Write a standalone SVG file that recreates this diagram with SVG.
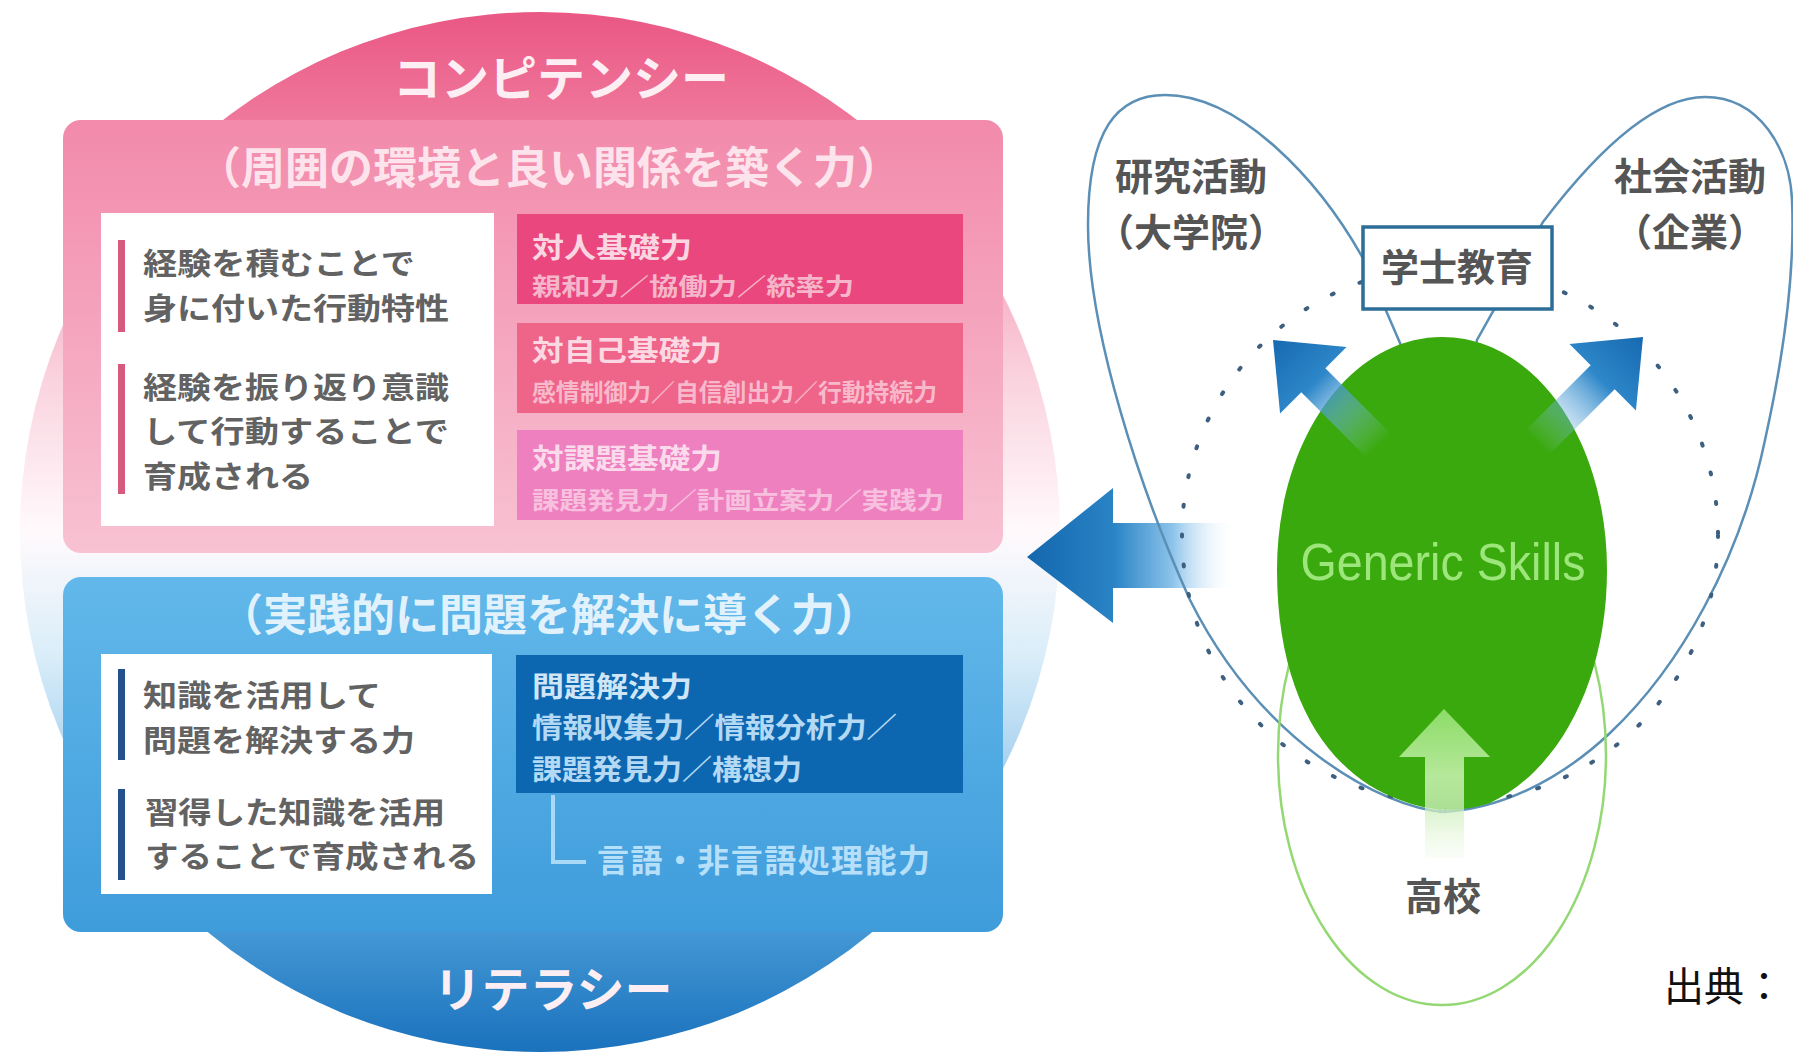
<svg xmlns="http://www.w3.org/2000/svg" width="1793" height="1053" viewBox="0 0 1793 1053">
<defs>
<linearGradient id="gCircle" gradientUnits="userSpaceOnUse" x1="0" y1="12" x2="0" y2="1052">
<stop offset="0" stop-color="#ea5784"/>
<stop offset="0.08" stop-color="#ee7096"/>
<stop offset="0.2" stop-color="#f49ab4"/>
<stop offset="0.35" stop-color="#fad2de"/>
<stop offset="0.5" stop-color="#fffafc"/>
<stop offset="0.62" stop-color="#d9edf9"/>
<stop offset="0.75" stop-color="#9ccbed"/>
<stop offset="0.86" stop-color="#4d9fd9"/>
<stop offset="1" stop-color="#1a72bd"/>
</linearGradient>
<linearGradient id="gPink" x1="0" y1="0" x2="0" y2="1">
<stop offset="0" stop-color="#f28aab"/>
<stop offset="1" stop-color="#f8c2d3"/>
</linearGradient>
<linearGradient id="gBlue" x1="0" y1="0" x2="0" y2="1">
<stop offset="0" stop-color="#62b8ea"/>
<stop offset="1" stop-color="#3f9cdb"/>
</linearGradient>
<linearGradient id="gBigArrow" gradientUnits="userSpaceOnUse" x1="1027" y1="0" x2="1235" y2="0">
<stop offset="0" stop-color="#1467ad"/>
<stop offset="0.42" stop-color="#2a84c6"/>
<stop offset="0.7" stop-color="#8cc3ea"/>
<stop offset="1" stop-color="#ffffff" stop-opacity="0"/>
</linearGradient>
<linearGradient id="gDiag" x1="0" y1="0" x2="0" y2="1">
<stop offset="0" stop-color="#1769b0"/>
<stop offset="0.4" stop-color="#2d87c9"/>
<stop offset="1" stop-color="#a9d3f0" stop-opacity="0"/>
</linearGradient>
<linearGradient id="gUp" x1="0" y1="0" x2="0" y2="1">
<stop offset="0" stop-color="#8ddc68"/>
<stop offset="0.45" stop-color="#b5e89a"/>
<stop offset="1" stop-color="#f4fbef" stop-opacity="0.4"/>
</linearGradient>
</defs>
<style>
.jp{font-family:"Noto Sans CJK JP","Noto Sans CJK SC",sans-serif;}
.title{font-size:48px;font-weight:700;fill:#fdeef3;text-anchor:middle;}
.sub{font-size:44px;font-weight:700;text-anchor:middle;}
.body{font-size:30px;font-weight:700;fill:#626262;}
.bt{font-size:28px;font-weight:700;}
.lbl{font-size:38px;font-weight:700;fill:#555555;text-anchor:middle;}
.loop{fill:none;stroke:#5b8fb6;stroke-width:2.5;}
</style>
<rect width="1793" height="1053" fill="#ffffff"/>

<g id="sphere">
<circle cx="540" cy="532" r="520" fill="url(#gCircle)"/>
</g>

<g id="competency">
<rect x="63" y="120" width="940" height="433" rx="18" fill="url(#gPink)"/>
<text class="jp title" x="561" y="96">コンピテンシー</text>
<text class="jp sub" x="549" y="184" fill="#fde4ec">（周囲の環境と良い関係を築く力）</text>
<g id="competency-desc">
<rect x="101" y="213" width="393" height="313" fill="#ffffff"/>
<rect x="118" y="240" width="7" height="92" fill="#d65a7e"/>
<rect x="118" y="364" width="7" height="130" fill="#d65a7e"/>
<text class="jp body"><tspan x="143" y="274" textLength="272" lengthAdjust="spacingAndGlyphs">経験を積むことで</tspan><tspan x="143" y="319" textLength="306" lengthAdjust="spacingAndGlyphs">身に付いた行動特性</tspan></text>
<text class="jp body"><tspan x="143" y="398" textLength="306" lengthAdjust="spacingAndGlyphs">経験を振り返り意識</tspan><tspan x="143" y="442" textLength="306" lengthAdjust="spacingAndGlyphs">して行動することで</tspan><tspan x="143" y="487" textLength="170" lengthAdjust="spacingAndGlyphs">育成される</tspan></text>
</g>
<g id="taijin">
<rect x="517" y="214" width="446" height="90" fill="#e9477d"/>
<text class="jp" font-weight="700"><tspan x="532" y="258" font-size="28" fill="#fbd6e2" textLength="160" lengthAdjust="spacingAndGlyphs">対人基礎力</tspan><tspan x="532" y="295" font-size="24" fill="#f6b5ca" textLength="322" lengthAdjust="spacingAndGlyphs">親和力／協働力／統率力</tspan></text>
</g>
<g id="taijiko">
<rect x="517" y="323" width="446" height="90" fill="#ef6489"/>
<text class="jp" font-weight="700"><tspan x="532" y="361" font-size="28" fill="#fcd8e3" textLength="190" lengthAdjust="spacingAndGlyphs">対自己基礎力</tspan><tspan x="532" y="401" font-size="24" fill="#f8b9cb" textLength="405" lengthAdjust="spacingAndGlyphs">感情制御力／自信創出力／行動持続力</tspan></text>
</g>
<g id="taikadai">
<rect x="517" y="430" width="446" height="90" fill="#ee80c0"/>
<text class="jp" font-weight="700"><tspan x="532" y="469" font-size="28" fill="#fbdaec" textLength="190" lengthAdjust="spacingAndGlyphs">対課題基礎力</tspan><tspan x="532" y="509" font-size="24" fill="#f8c0df" textLength="412" lengthAdjust="spacingAndGlyphs">課題発見力／計画立案力／実践力</tspan></text>
</g>
</g>

<g id="literacy">
<rect x="63" y="577" width="940" height="355" rx="18" fill="url(#gBlue)"/>
<text class="jp sub" x="549" y="631" fill="#e2f2fc">（実践的に問題を解決に導く力）</text>
<text class="jp title" x="553" y="1007" fill="#eaf5fc">リテラシー</text>
<g id="literacy-desc">
<rect x="101" y="654" width="391" height="240" fill="#ffffff"/>
<rect x="118" y="669" width="7" height="91" fill="#24508c"/>
<rect x="118" y="789" width="7" height="91" fill="#24508c"/>
<text class="jp body"><tspan x="143" y="706" textLength="238" lengthAdjust="spacingAndGlyphs">知識を活用して</tspan><tspan x="143" y="751" textLength="272" lengthAdjust="spacingAndGlyphs">問題を解決する力</tspan></text>
<text class="jp body"><tspan x="145" y="823" textLength="300" lengthAdjust="spacingAndGlyphs">習得した知識を活用</tspan><tspan x="145" y="867" textLength="334" lengthAdjust="spacingAndGlyphs">することで育成される</tspan></text>
</g>
<g id="mondai">
<rect x="516" y="655" width="447" height="138" fill="#0c67b0"/>
<text class="jp bt"><tspan x="532" y="697" fill="#cfe6f8" textLength="160" lengthAdjust="spacingAndGlyphs">問題解決力</tspan><tspan x="532" y="738" fill="#b3d9f4" textLength="365" lengthAdjust="spacingAndGlyphs">情報収集力／情報分析力／</tspan><tspan x="532" y="780" fill="#b3d9f4" textLength="270" lengthAdjust="spacingAndGlyphs">課題発見力／構想力</tspan></text>
</g>
<g id="gengo">
<text class="jp" x="597" y="872" font-size="32" font-weight="700" fill="#b6dffa" textLength="333">言語・非言語処理能力</text>
</g>
</g>

<g id="connectors">
<path d="M553 795 V862 H586" fill="none" stroke="#a8d9f6" stroke-width="4"/>
<polygon points="1027,557 1113,488 1113,523 1235,523 1235,588 1113,588 1113,623" fill="url(#gBigArrow)"/>
<path class="loop" d="M1445 812 C1380 808 1260 740 1190 600 C1140 490 1088 330 1088 225 C1088 130 1117 95 1165 95 C1240 95 1320 180 1365 262 L1400 343 C1430 420 1450 700 1445 812 Z"/>
<path class="loop" d="M1440 812 C1500 810 1560 780 1610 733 C1680 667 1740 560 1765 440 C1785 350 1795 270 1792 200 C1790 150 1760 97 1705 97 C1650 97 1590 160 1543 222 L1477 340 C1460 420 1440 700 1440 812 Z"/>
<circle cx="1450" cy="535" r="268" fill="none" stroke="#3d5f80" stroke-width="4" stroke-dasharray="2 28" stroke-linecap="round"/>
<ellipse cx="1442" cy="755" rx="164" ry="250" fill="none" stroke="#93d872" stroke-width="2.5"/>
</g>

<g id="generic-skills">
<path d="M1442 337 C1535 337 1607 440 1607 570 C1607 680 1560 770 1490 803 Q1445 818 1400 800 C1330 775 1277 700 1277 570 C1277 440 1350 337 1442 337 Z" fill="#3aa90d"/>
<text x="1443" y="580" font-family="'Liberation Sans','DejaVu Sans',sans-serif" font-size="52" fill="#9de67b" text-anchor="middle" textLength="285" lengthAdjust="spacingAndGlyphs">Generic Skills</text>
</g>

<g id="arrows">
<polygon transform="translate(1273,340) rotate(-45)" points="0,0 47,57 17,57 17,150 -17,150 -17,57 -47,57" fill="url(#gDiag)"/>
<polygon transform="translate(1643,337) rotate(45)" points="0,0 47,57 17,57 17,150 -17,150 -17,57 -47,57" fill="url(#gDiag)"/>
<polygon points="1444,709 1490,757 1464,757 1464,858 1425,858 1425,757 1399,757" fill="url(#gUp)"/>
</g>

<g id="gakushi">
<rect x="1363" y="227" width="189" height="82" fill="#ffffff" stroke="#2d6e98" stroke-width="3.5"/>
<text class="jp lbl" x="1457" y="281">学士教育</text>
</g>
<g id="kenkyu">
<text class="jp lbl"><tspan x="1191" y="190">研究活動</tspan><tspan x="1191" y="246">（大学院）</tspan></text>
</g>
<g id="shakai">
<text class="jp lbl"><tspan x="1690" y="190">社会活動</tspan><tspan x="1690" y="246">（企業）</tspan></text>
</g>
<g id="koko">
<text class="jp lbl" x="1443" y="910" font-size="40">高校</text>
</g>
<text class="jp" x="1664" y="1001" font-size="40" fill="#111111">出典：</text>
</svg>
